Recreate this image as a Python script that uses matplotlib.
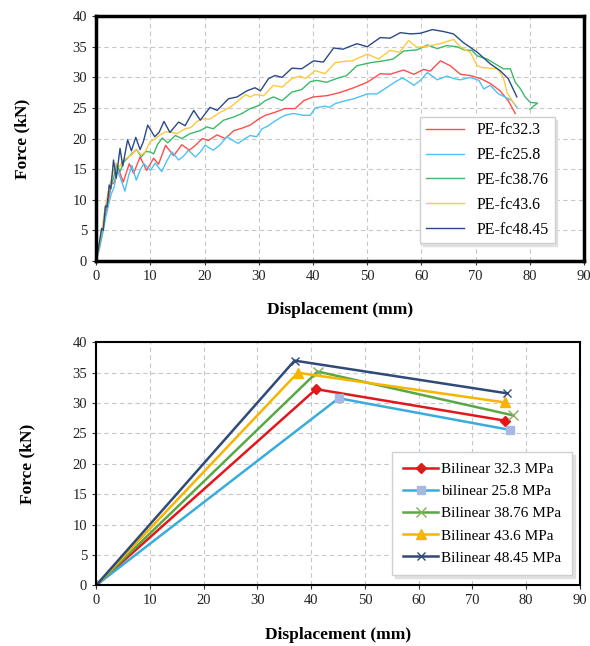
import matplotlib.pyplot as plt

plt.rcParams['font.family'] = ['Liberation Serif', 'DejaVu Serif']

# ---- top chart: test curves ----
fc323_x = [0, 0.6, 1.2, 1.8, 2.3, 2.8, 3.3, 4.1, 5.0, 6.1, 6.9, 8.1, 9.3, 10.6, 11.5, 12.8, 14.3, 15.8, 17.2, 18.3,
           19.6, 20.7, 22.3, 23.8, 25.4, 26.9, 28.4, 30.0, 31.2, 33.0, 34.8, 36.7, 38.3, 40.0, 42.5, 44.9, 47.5, 50.0, 52.4, 54.2,
           56.7, 58.6, 60.4, 61.6, 63.5, 65.3, 67.2, 69.0, 70.9, 72.7, 74.5, 76.0, 77.3]
fc323_y = [0, 2.3, 5.0, 8.0, 10.0, 12.5, 12.8, 15.1, 12.9, 15.9, 14.3, 17.0, 14.8, 16.8, 15.8, 18.9, 17.2, 19.0, 18.1, 18.9,
           20.0, 19.7, 20.6, 20.0, 21.3, 21.7, 22.2, 23.2, 23.8, 24.3, 24.9, 24.9, 26.2, 26.8, 27.0, 27.5, 28.3, 29.2, 30.6, 30.5,
           31.2, 30.5, 31.3, 31.0, 32.7, 31.9, 30.5, 30.3, 29.8, 29.0, 27.8, 26.2, 24.1]

fc258_x = [0, 0.6, 1.2, 1.8, 2.3, 2.8, 3.3, 3.9, 4.5, 5.3, 6.0, 6.6, 7.4, 8.2, 8.8, 10.0, 10.9, 12.1, 13.0, 14.0,
           15.2, 16.2, 17.0, 18.3, 19.2, 20.1, 21.6, 22.9, 24.1, 25.0, 26.2, 27.3, 28.4, 29.6, 30.6, 31.6, 32.7, 33.8, 34.8, 36.4,
           38.2, 39.5, 40.4, 42.2, 43.0, 44.1, 45.6, 47.5, 48.8, 50.0, 51.8, 53.0, 54.2, 55.4, 56.5, 57.8, 58.6, 59.8, 61.1, 62.0,
           62.9, 64.7, 66.0, 67.2, 69.0, 70.6, 71.5, 72.7, 74.2, 75.4, 76.7, 77.6]
fc258_y = [0, 2.0, 4.5, 7.3, 9.2, 11.0, 12.0, 14.8, 13.5, 11.4, 14.0, 15.6, 13.2, 15.0, 15.9, 14.8, 16.0, 14.6, 16.3, 17.8,
           16.5, 17.2, 18.1, 17.0, 17.8, 18.9, 18.1, 19.0, 20.3, 19.8, 19.2, 19.9, 20.5, 20.3, 21.6, 22.0, 22.7, 23.3, 23.8, 24.1,
           23.8, 23.8, 25.0, 25.3, 25.1, 25.7, 26.1, 26.5, 26.9, 27.3, 27.3, 28.0, 28.7, 29.4, 29.9, 29.2, 28.7, 29.5, 30.8, 30.2,
           29.6, 30.2, 29.8, 29.6, 30.0, 29.5, 28.1, 28.7, 27.3, 26.8, 26.2, 25.1]

fc3876_x = [0, 0.6, 1.2, 1.7, 2.2, 2.7, 3.2, 3.8, 4.4, 5.1, 5.8, 6.6, 7.5, 8.3, 9.2, 10.0, 10.6, 11.3, 12.2, 13.2,
            14.6, 15.8, 17.3, 19.2, 20.4, 21.6, 23.5, 25.3, 26.9, 28.4, 30.0, 31.2, 32.7, 34.3, 36.1, 37.9, 39.5, 40.7, 42.5, 44.3,
            46.2, 48.1, 50.6, 53.0, 54.8, 56.7, 59.2, 61.1, 62.9, 64.7, 66.6, 67.8, 69.3, 70.3, 72.1, 73.6, 75.1, 76.4, 77.3, 78.2,
            79.2, 80.1, 81.4, 80.0]
fc3876_y = [0, 2.5, 5.5, 8.5, 10.5, 12.3, 13.5, 15.8, 14.6, 16.2, 16.8, 17.6, 18.2, 17.0, 17.9, 17.8, 17.5, 19.0, 20.1, 19.3,
            20.5, 20.0, 20.8, 21.3, 21.9, 21.6, 23.0, 23.5, 24.1, 24.9, 25.4, 26.2, 26.8, 26.2, 27.6, 28.0, 29.3, 29.5, 29.2, 29.8,
            30.3, 31.9, 32.4, 32.7, 33.0, 34.3, 34.5, 35.3, 34.7, 35.2, 35.0, 34.5, 34.4, 33.5, 33.0, 32.2, 31.4, 31.4, 29.2, 28.2,
            26.7, 25.9, 25.8, 24.8]

fc436_x = [0, 0.5, 1.0, 1.5, 2.0, 2.5, 3.0, 3.6, 4.3, 5.0, 5.8, 6.6, 7.4, 8.3, 9.0, 10.0, 10.8, 11.8, 12.8, 13.6,
           14.9, 16.4, 17.5, 18.6, 19.5, 21.0, 22.9, 24.7, 26.6, 27.6, 28.4, 29.3, 30.9, 32.7, 34.3, 36.1, 37.6, 38.6, 40.4, 42.2,
           44.1, 45.6, 47.2, 50.0, 52.1, 54.2, 56.0, 57.6, 59.2, 61.1, 63.5, 65.9, 67.3, 69.0, 70.3, 71.2, 74.0, 75.1, 75.8, 76.5,
           77.2]
fc436_y = [0, 2.2, 4.8, 7.8, 10.3, 12.3, 14.0, 16.0, 15.4, 16.5, 16.9, 17.4, 18.3, 17.3, 17.8, 19.5, 19.9, 20.6, 21.1, 21.1,
           20.8, 21.6, 21.8, 22.8, 23.2, 23.2, 24.3, 25.1, 26.5, 27.2, 26.8, 27.2, 27.0, 28.7, 28.4, 29.8, 30.2, 29.8, 31.1, 30.6,
           32.4, 32.6, 32.7, 33.8, 33.0, 34.4, 34.1, 36.0, 34.9, 35.1, 35.5, 36.2, 34.9, 34.1, 31.9, 31.6, 31.4, 30.0, 27.5, 26.5,
           25.5]

fc4845_x = [0, 0.5, 1.0, 1.3, 1.7, 2.0, 2.4, 2.7, 3.2, 3.7, 4.4, 4.9, 5.8, 6.5, 7.3, 8.1, 8.7, 9.5, 10.8, 11.6,
            12.5, 13.6, 15.2, 16.4, 18.0, 19.2, 21.0, 22.3, 24.4, 26.0, 27.8, 29.3, 30.3, 31.8, 33.0, 34.3, 36.1, 37.9, 40.1, 41.9,
            43.8, 45.5, 48.1, 50.0, 52.4, 54.2, 56.1, 58.0, 59.8, 62.0, 64.0, 65.9, 67.7, 70.3, 72.7, 74.5, 76.0, 77.6]
fc4845_y = [0, 2.5, 5.3, 5.0, 9.0, 8.8, 12.4, 11.8, 16.5, 13.5, 18.4, 15.5, 19.8, 18.0, 20.2, 18.2, 19.5, 22.2, 20.3, 21.0,
            22.8, 21.0, 22.7, 22.1, 24.6, 23.0, 25.1, 24.6, 26.5, 26.8, 27.8, 28.3, 27.8, 29.8, 30.3, 30.0, 31.5, 31.4, 32.7, 32.5,
            34.8, 34.6, 35.5, 35.0, 36.5, 36.4, 37.3, 37.1, 37.2, 37.8, 37.5, 37.1, 35.7, 34.1, 32.2, 31.1, 29.8, 26.8]

# ---- bottom chart: bilinear models ----
bl323_x = [0, 40.9, 76.1]
bl323_y = [0, 32.3, 27.1]
bl258_x = [0, 45.1, 76.9]
bl258_y = [0, 30.8, 25.6]
bl3876_x = [0, 41.2, 77.5]
bl3876_y = [0, 35.2, 28.0]
bl436_x = [0, 37.5, 76.1]
bl436_y = [0, 35.0, 30.1]
bl4845_x = [0, 36.9, 76.5]
bl4845_y = [0, 37.0, 31.6]

fig = plt.figure(figsize=(5.9, 6.46), dpi=100)
ax1 = fig.add_axes([0.163, 0.596, 0.827, 0.379])
ax2 = fig.add_axes([0.163, 0.094, 0.820, 0.376])

# top: experimental curves
kw = dict(lw=1.0, solid_joinstyle='round')
ax1.plot(fc323_x, fc323_y, color='#FF4D4D', label='PE-fc32.3', **kw)
ax1.plot(fc258_x, fc258_y, color='#4CC3F5', label='PE-fc25.8', **kw)
ax1.plot(fc3876_x, fc3876_y, color='#3CB96A', label='PE-fc38.76', **kw)
ax1.plot(fc436_x, fc436_y, color='#FFC83D', label='PE-fc43.6', **kw)
ax1.plot(fc4845_x, fc4845_y, color='#2C4987', label='PE-fc48.45', **kw)

# bottom: bilinear
ax2.plot(bl323_x, bl323_y, color='#E3161C', lw=1.8, marker='D', ms=5, label='Bilinear 32.3 MPa')
ax2.plot(bl258_x, bl258_y, color='#3AACDB', lw=1.8, marker='s', ms=6, mfc='#A7B9E2', mec='#A7B9E2',
         label='bilinear 25.8 MPa')
ax2.plot(bl3876_x, bl3876_y, color='#5AA845', lw=1.8, marker='x', ms=7, mec='#7FB05A', mew=1.0,
         label='Bilinear 38.76 MPa')
ax2.plot(bl436_x, bl436_y, color='#F7B500', lw=1.8, marker='^', ms=7, label='Bilinear 43.6 MPa')
ax2.plot(bl4845_x, bl4845_y, color='#2F4A78', lw=1.8, marker='x', ms=6, mew=1.0, label='Bilinear 48.45 MPa')

for ax, spw, lp in [(ax1, 2.5, 30), (ax2, 1.5, 27)]:
    ax.set_xlim(0, 90)
    ax.set_ylim(0, 40)
    ax.set_xticks(range(0, 91, 10))
    ax.set_yticks(range(0, 41, 5))
    ax.grid(True, linestyle=(0, (4, 3)), color='#C8C8C8', lw=0.8)
    ax.set_axisbelow(True)
    for s in ax.spines.values():
        s.set_linewidth(spw)
        s.set_color('black')
    ax.tick_params(labelsize=10.5, length=3, width=0.8, colors='#333333', labelcolor='#222222')
    ax.set_xlabel('Displacement (mm)', fontsize=12.5, fontweight='bold', labelpad=14)
    ax.set_ylabel('Force (kN)', fontsize=12.5, fontweight='bold', labelpad=lp)

shadow = {'ox': 2, 'oy': -2, 'color': '#E0E0E0', 'alpha': 1}
ax1.legend(loc='lower left', bbox_to_anchor=(0.664, 0.073), borderaxespad=0, fontsize=11.5, fancybox=False,
           shadow=shadow, framealpha=1, edgecolor='#D0D0D0', handlelength=2.4, labelspacing=0.55,
           borderpad=0.35)
ax2.legend(loc='lower left', bbox_to_anchor=(0.612, 0.041), borderaxespad=0, fontsize=11, fancybox=False,
           shadow=shadow, framealpha=1, edgecolor='#D0D0D0', handlelength=2.3, handletextpad=0.2,
           labelspacing=0.55, borderpad=0.7)

plt.savefig('out.png', dpi=100)
